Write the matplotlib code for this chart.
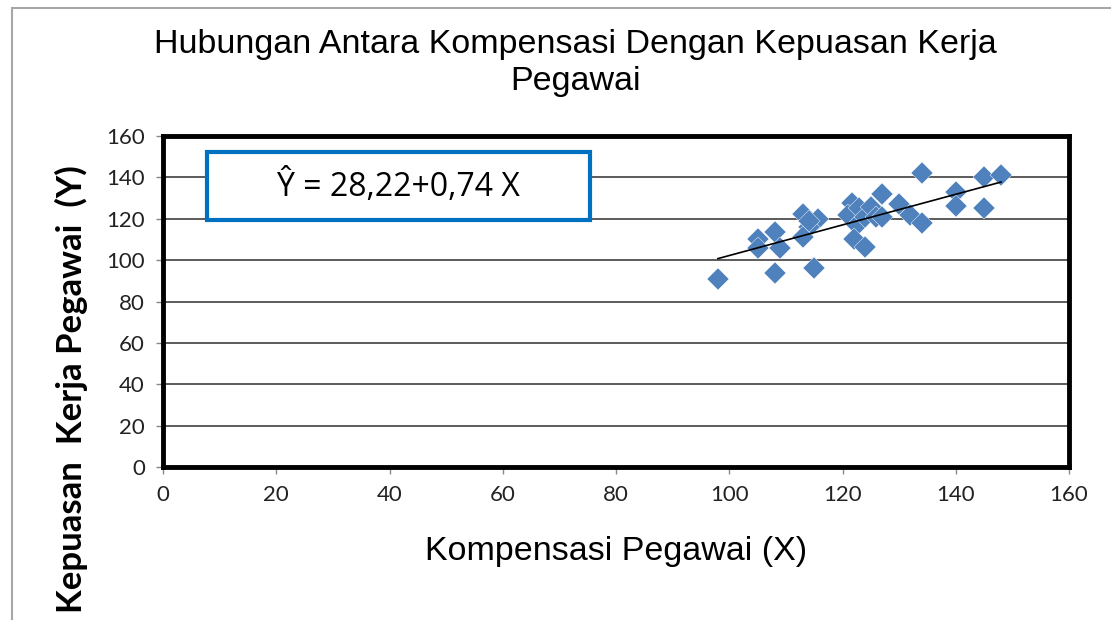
import numpy as np
import matplotlib.pyplot as plt
from matplotlib.patches import Rectangle

# data
x_komp = [98, 105, 105, 108, 109, 108, 113, 115.7, 114, 113, 115, 114,
          121.7, 121, 122.6, 122, 124, 123, 124, 125, 127, 126, 127,
          130, 132, 134, 134, 140, 140, 145, 145, 148]
y_kep = [91, 110, 106, 113.5, 106, 94, 122.5, 120, 116, 111, 96, 119,
         127.5, 122, 117, 110, 106.5, 125, 121, 125.5, 132, 121, 121,
         127, 122, 142, 118, 133, 126, 140, 125, 141]
intercept = 28.22
slope = 0.74
ticks = [0, 20, 40, 60, 80, 100, 120, 140, 160]

W, H = 1111, 620
fig = plt.figure(figsize=(W / 100, H / 100), dpi=100)
fig.patches.append(Rectangle((12 / W, -0.1), 1.2, 1 - 8 / H + 0.1, transform=fig.transFigure,
                             fill=False, edgecolor='#a6a6a6', linewidth=1.5))

ax = fig.add_axes([163 / W, 1 - 467 / H, (1069 - 163) / W, (467 - 136) / H])
ax.set_xlim(0, 160)
ax.set_ylim(0, 160)
ax.set_xticks(ticks)
ax.set_yticks(ticks)
ax.grid(axis='y', color='#404040', linewidth=1.2)
ax.set_axisbelow(True)
for s in ax.spines.values():
    s.set_linewidth(3.5)
    s.set_color('black')
ax.tick_params(direction='out', length=5, width=1, color='#888888', pad=8,
               labelsize=16, labelcolor='#222222')
for lab in ax.get_xticklabels() + ax.get_yticklabels():
    lab.set_family(['Lato', 'DejaVu Sans'])

ax.plot(x_komp, y_kep, linestyle='none', marker='D', markersize=11,
        color='#4f81bd', markeredgecolor='white', markeredgewidth=0.3, zorder=3)

xl = np.array([min(x_komp), max(x_komp)])
ax.plot(xl, intercept + slope * xl, color='black', linewidth=1.2, zorder=4)

ax.set_xlabel('Kompensasi Pegawai (X)', fontsize=24.5, labelpad=22,
              family=['Liberation Sans', 'DejaVu Sans'])
ax.set_ylabel('Kepuasan  Kerja Pegawai  (Y)', fontsize=25, fontweight='bold',
              family=['Lato', 'DejaVu Sans'])
ax.yaxis.set_label_coords(-0.083, 0.236)

fig.text(0.518, 1 - 63 / H, 'Hubungan Antara Kompensasi Dengan Kepuasan Kerja\nPegawai',
         ha='center', va='center', fontsize=24.5, linespacing=1.25,
         family=['Liberation Sans', 'DejaVu Sans'])

fig.patches.append(Rectangle((207 / W, 1 - 220 / H), (590 - 207) / W, (220 - 152) / H,
                             transform=fig.transFigure, facecolor='white',
                             edgecolor='#0070c0', linewidth=3, zorder=5))
fig.text(398 / W, 1 - 187 / H, '\u0176 = 28,22+0,74 X', ha='center', va='center',
         fontsize=23, family=['Open Sans', 'DejaVu Sans'], zorder=6)

fig.savefig('out.png', dpi=100)
